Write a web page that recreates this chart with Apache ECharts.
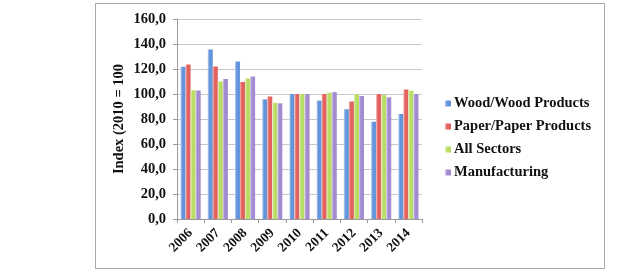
<!DOCTYPE html>
<html>
<head>
<meta charset="utf-8">
<script src="https://cdn.jsdelivr.net/npm/echarts@6/dist/echarts.min.js"></script>
<style>
  html, body { margin: 0; padding: 0; background: #fff; }
  #chart { width: 636px; height: 272px; }
</style>
</head>
<body>
<div id="chart"></div>
<script>
const years = ["2006", "2007", "2008", "2009", "2010", "2011", "2012", "2013", "2014"];
const wood = [121.8, 135.7, 126.0, 95.7, 100.0, 94.7, 87.8, 77.8, 84.0];
const paper = [123.7, 122.0, 109.6, 98.0, 100.0, 100.0, 94.0, 100.0, 103.7];
const allSectors = [103.0, 110.0, 112.5, 93.0, 100.0, 101.0, 99.7, 99.2, 102.7];
const manufacturing = [102.8, 112.0, 114.0, 92.5, 100.0, 101.5, 98.4, 97.3, 100.0];

const serif = "'Liberation Serif', 'Times New Roman', serif";

function grad(light, dark) {
  return new echarts.graphic.LinearGradient(0, 0, 1, 0, [
    { offset: 0, color: light },
    { offset: 0.35, color: dark },
    { offset: 1, color: dark }
  ]);
}

function bars(name, data, light, dark) {
  return {
    name: name,
    type: "bar",
    data: data,
    barGap: "0%",
    barCategoryGap: "26%",
    itemStyle: { color: grad(light, dark) }
  };
}

const chart = echarts.init(document.getElementById("chart"), null, { renderer: "canvas" });

chart.setOption({
  animation: false,
  color: ["#6494da", "#e2625f", "#b8dc64", "#a38bd0"],
  graphic: [{
    type: "rect",
    shape: { x: 95.5, y: 3.5, width: 509, height: 265 },
    style: { fill: "none", stroke: "#a8a8a8", lineWidth: 1 },
    silent: true
  }],
  grid: { left: 177, right: 214, top: 19, bottom: 53 },
  legend: {
    orient: "vertical",
    left: 440,
    top: 91,
    itemWidth: 6,
    itemHeight: 6,
    itemGap: 8,
    icon: "rect",
    textStyle: { fontFamily: serif, fontWeight: "bold", fontSize: 14.5, color: "#111", padding: [0, 0, 0, -2] },
    data: ["Wood/Wood Products", "Paper/Paper Products", "All Sectors", "Manufacturing"]
  },
  xAxis: {
    type: "category",
    data: years,
    axisLine: { lineStyle: { color: "#9a9a9a" } },
    axisTick: { show: true, alignWithLabel: false, length: 4, lineStyle: { color: "#9a9a9a" } },
    axisLabel: {
      rotate: 45,
      fontFamily: serif,
      fontWeight: "bold",
      fontSize: 13.5,
      color: "#111",
      margin: 12
    }
  },
  yAxis: {
    type: "value",
    min: 0,
    max: 160,
    interval: 20,
    name: "Index (2010 = 100",
    nameLocation: "middle",
    nameGap: 50,
    nameTextStyle: { fontFamily: serif, fontWeight: "bold", fontSize: 14.5, color: "#111" },
    axisLine: { show: true, lineStyle: { color: "#9a9a9a" } },
    axisTick: { show: true, length: 4, lineStyle: { color: "#9a9a9a" } },
    splitLine: { lineStyle: { color: "#c8c8c8" } },
    axisLabel: {
      fontFamily: serif,
      fontWeight: "bold",
      fontSize: 14.5,
      color: "#111",
      margin: 11,
      formatter: function (v) { return v.toFixed(1).replace(".", ","); }
    }
  },
  series: [
    bars("Wood/Wood Products", wood, "#bcd2f3", "#6494da"),
    bars("Paper/Paper Products", paper, "#f3b6b4", "#e2625f"),
    bars("All Sectors", allSectors, "#e6f5bc", "#b8dc64"),
    bars("Manufacturing", manufacturing, "#d8cdef", "#a38bd0")
  ]
});
</script>
</body>
</html>
